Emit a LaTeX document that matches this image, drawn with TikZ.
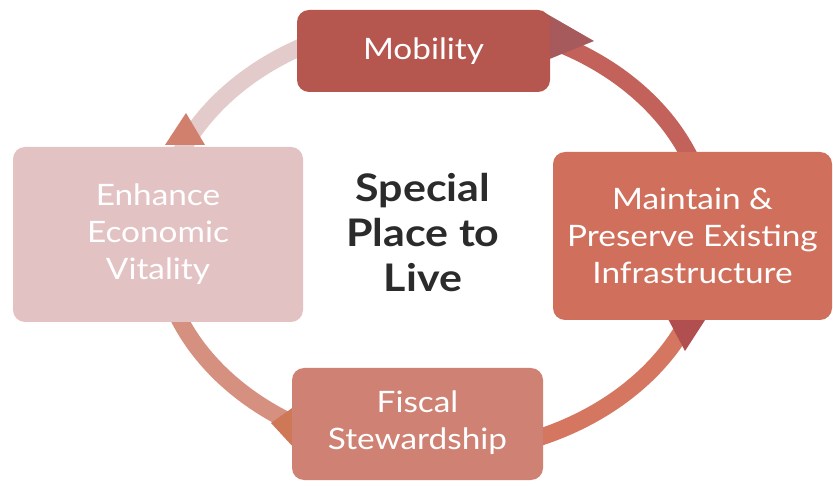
\documentclass[tikz,border=0pt]{standalone}
\usepackage{fontspec}
\setmainfont{Lato}[FakeStretch=1.13]
\definecolor{cMob}{HTML}{B5564F}
\definecolor{cMai}{HTML}{D0705C}
\definecolor{cFis}{HTML}{CF8274}
\definecolor{cEnh}{HTML}{E3C2C3}
\definecolor{aTR}{HTML}{C2625A}
\definecolor{aBR}{HTML}{D47660}
\definecolor{aBL}{HTML}{D6907F}
\definecolor{aTL}{HTML}{E4CBCB}
\definecolor{wMob}{HTML}{A65A5C}
\definecolor{wMai}{HTML}{B04E50}
\definecolor{wFis}{HTML}{CF7858}
\definecolor{wEnh}{HTML}{D0806C}
\definecolor{ctext}{HTML}{2B2B2B}
\tikzset{
  ringseg/.style={line width=17pt},
  box/.style={rectangle, rounded corners=12pt, inner sep=0pt, text=white, align=center,
    font=\fontsize{29.5}{37}\selectfont},
}
\begin{document}
\begin{tikzpicture}[x=1pt,y=1pt]
\fill[white] (0,0) rectangle (833,485);
\useasboundingbox (0,0) rectangle (833,485);
% ring points
\coordinate (rT) at (434,465);
\coordinate (rR) at (709,248);
\coordinate (rB) at (434,31);
\coordinate (rL) at (159,248);
\draw[ringseg, aTL] (rL) arc[start angle=180, end angle=90, x radius=275pt, y radius=217pt];
\draw[ringseg, aTR] (rT) arc[start angle=90, end angle=0, x radius=275pt, y radius=217pt];
\draw[ringseg, aBR] (rR) arc[start angle=0, end angle=-90, x radius=275pt, y radius=217pt];
\draw[ringseg, aBL] (rB) arc[start angle=-90, end angle=-180, x radius=275pt, y radius=217pt];
% arrow wedges
\fill[wEnh] (165,340) -- (205,340) -- (186,372) -- cycle;
\fill[wMob] (547,471) -- (547,425) -- (594,444) -- cycle;
\fill[wMai] (667,168) -- (707,168) -- (685,134) -- cycle;
\fill[wFis] (295,79) -- (295,36) -- (271,62) -- cycle;
% boxes
\node[box, fill=cMob, minimum width=253pt, minimum height=82pt] (mob) at (423.5,434) {Mobility};
\node[box, fill=cMai, minimum width=279pt, minimum height=168pt] (mai) at (692.5,249) {Maintain \&\\Preserve Existing\\Infrastructure};
\node[box, fill=cFis, minimum width=251pt, minimum height=112pt] (fis) at (417.5,61) {\raisebox{-3pt}{\begin{tabular}{@{}c@{}}Fiscal\\Stewardship\end{tabular}}};
\node[box, fill=cEnh, minimum width=290pt, minimum height=175pt] (enh) at (158,250.5) {Enhance\\Economic\\Vitality};
\node[text=ctext, align=center, font=\bfseries\fontsize{38}{45}\selectfont] (ctr) at (423,252) {Special\\Place to\\Live};
\end{tikzpicture}
\end{document}
